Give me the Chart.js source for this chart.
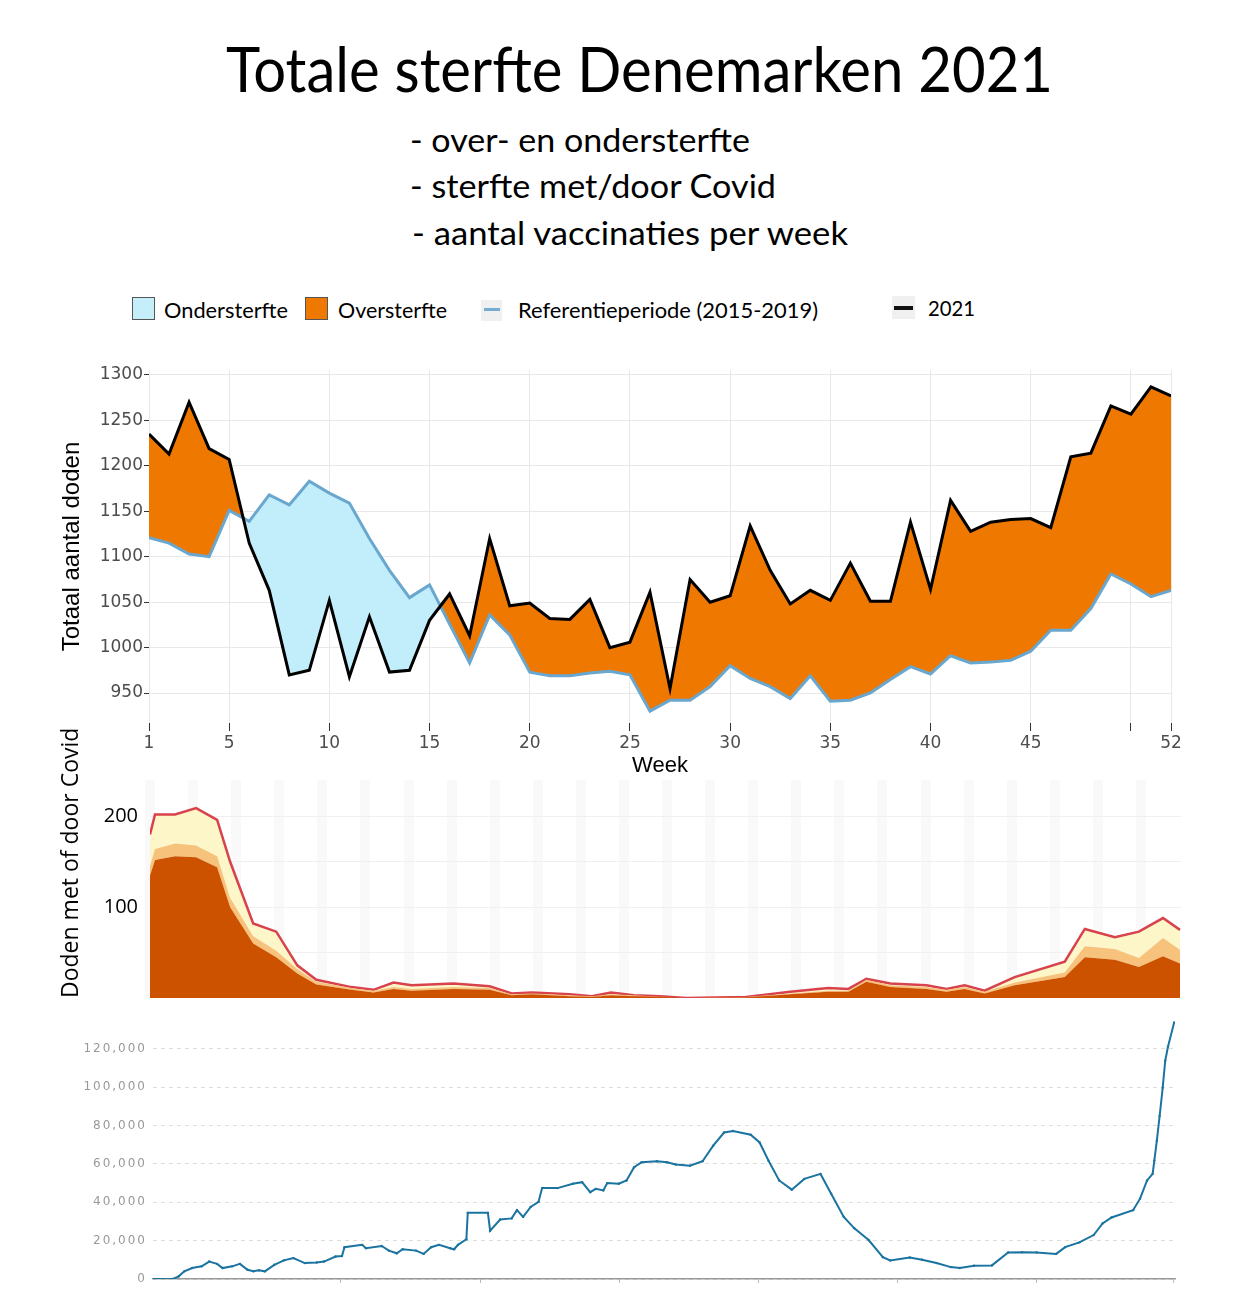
<!DOCTYPE html>
<html>
<head>
<meta charset="utf-8">
<script src="https://cdn.jsdelivr.net/npm/chart.js@4.4.1/dist/chart.umd.min.js"></script>
<style>
  html, body { margin: 0; padding: 0; background: #fff; }
  #page { position: relative; width: 1254px; height: 1300px; overflow: hidden; background: #fff; }
  .txt { position: absolute; white-space: nowrap; line-height: 1; font-family: Lato, "Open Sans", sans-serif; color: #000; transform-origin: 0 0; }
  .box { position: absolute; box-sizing: border-box; }
  canvas { position: absolute; left: 0; }
</style>
</head>
<body>
<div id="page">
  <div class="txt" style="left:226px; top:37px; font-size:62px;" data-w="827">Totale sterfte Denemarken 2021</div>
  <div class="txt" style="left:410px; top:124px; font-size:32px;" data-w="340">- over- en ondersterfte</div>
  <div class="txt" style="left:410px; top:170px; font-size:32px;" data-w="366">- sterfte met/door Covid</div>
  <div class="txt" style="left:412px; top:217px; font-size:32px;" data-w="436">- aantal vaccinaties per week</div>

  <!-- legend -->
  <div class="box" style="left:132px; top:297px; width:23px; height:23px; background:#c4eefa; border:1px solid #555;"></div>
  <div class="txt" style="left:164px; top:299px; font-size:21px;" data-w="124">Ondersterfte</div>
  <div class="box" style="left:305px; top:297px; width:23px; height:23px; background:#ef7800; border:1px solid #555;"></div>
  <div class="txt" style="left:338px; top:299px; font-size:21px;" data-w="109">Oversterfte</div>
  <div class="box" style="left:481px; top:300px; width:21px; height:21px; background:#f0f0f0;"></div>
  <div class="box" style="left:484px; top:308px; width:16px; height:3px; background:#74acd4;"></div>
  <div class="txt" style="left:518px; top:299px; font-size:21px;" data-w="300">Referentieperiode (2015-2019)</div>
  <div class="box" style="left:892px; top:296px; width:23px; height:23px; background:#f0f0f0;"></div>
  <div class="box" style="left:894px; top:306px; width:19px; height:4px; background:#111;"></div>
  <div class="txt" style="left:928px; top:297px; font-size:21px;" data-w="47">2021</div>

  <canvas id="sterfte" width="1254" height="430" style="top:355px"></canvas>
  <canvas id="covid" width="1254" height="295" style="top:710px"></canvas>
  <canvas id="vacc" width="1254" height="295" style="top:1005px"></canvas>
</div>

<script>
// ---- totale sterfte per week ----
const weeks = [1, 2, 3, 4, 5, 6, 7, 8, 9, 10, 11, 12, 13, 14, 15, 16, 17, 18, 19, 20, 21, 22, 23, 24, 25, 26,
  27, 28, 29, 30, 31, 32, 33, 34, 35, 36, 37, 38, 39, 40, 41, 42, 43, 44, 45, 46, 47, 48, 49, 50, 51, 52];
const deaths2021 = [1235, 1213, 1270, 1219, 1207, 1115, 1063, 970, 975, 1052, 968, 1034, 973, 975, 1030, 1059, 1013,
  1120, 1046, 1049, 1032, 1031, 1053, 1000, 1006, 1061, 955, 1075, 1050, 1057, 1134, 1085, 1048, 1063, 1052, 1093,
  1051, 1051, 1138, 1064, 1162, 1128, 1138, 1141, 1142, 1132, 1210, 1214, 1266, 1257, 1287, 1277];
const reference = [1121, 1115, 1103, 1100, 1151, 1139, 1168, 1157, 1183, 1170, 1159, 1120, 1085, 1055, 1069, 1026, 983,
  1036, 1014, 973, 969, 969, 972, 974, 970, 930, 942, 942, 957, 980, 966, 957, 944, 969, 941, 942, 950, 965, 979, 971,
  991, 983, 984, 986, 996, 1019, 1019, 1043, 1081, 1070, 1056, 1063];
const weekTicks = [1, 5, 10, 15, 20, 25, 30, 35, 40, 45, 50, 52];
const deathTicks = [950, 1000, 1050, 1100, 1150, 1200, 1250, 1300];

// ---- doden met of door covid (weeknummer als decimaal) ----
const covidWeeks = [1.05, 1.3, 2.3, 3.35, 4.4, 5.05, 6.2, 7.35, 8.4, 9.35, 11.1, 12.2, 13.2, 14.1, 16.2, 18.0, 19.1,
  20.1, 22.0, 23.1, 24.05, 25.2, 26.5, 27.8, 30.8, 33.0, 34.9, 35.9, 36.8, 38.0, 39.8, 40.8, 41.7, 42.7, 44.2, 46.7,
  47.7, 49.2, 50.4, 51.6, 52.45];
const covidDark = [135, 152, 156, 155, 144, 100, 60, 45, 27, 15, 9, 6, 10, 8, 10, 9, 3, 4, 2, 1, 3, 2, 1, 0, 0.5,
  4, 7, 7, 18, 12, 10, 7, 10, 5, 14, 23, 45, 42, 34, 46, 38];
const covidMid = [10, 12, 14, 13, 12, 10, 8, 7, 5, 3, 2, 2, 2, 2, 2, 2, 1, 1, 1, 1, 1, 1, 0.5, 0, 0.5,
  1, 1, 1, 2, 2, 2, 2, 2, 2, 3, 5, 12, 12, 10, 20, 15];
const covidOther = [35, 38, 32, 41, 40, 40, 14, 21, 4, 2, 1, 1, 5, 4, 4, 2, 1, 1, 1, 0, 2, 0, 0.5, 0, 0,
  2, 3, 2, 1, 2, 2, 1, 2, 1, 6, 12, 19, 13, 29, 22, 22];
const covidTicks = [50, 100, 150, 200];

// ---- vaccinaties (dag van het jaar) ----
const vaxDays = [0, 7.1, 9.2, 11.2, 14, 17.4, 20.1, 22.9, 24.9, 28.3, 31.1, 33.8, 35.9, 37.9, 40, 43.4, 46.8, 50.2,
  54.3, 58.5, 61.2, 65.3, 67.6, 68.5, 74.8, 76.2, 81.8, 84.4, 87.2, 89.3, 94.1, 96.8, 99.5, 102.3, 106.3, 107.7, 109.1,
  112.1, 112.6, 119.8, 120.6, 124.2, 128.3, 130.2, 132.4, 135.1, 137.9, 139.2, 144.7, 150.2, 153.5, 156.4, 158.4,
  161.1, 162.5, 166.6, 169.4, 172.1, 174.8, 180.3, 183.9, 187, 192.1, 196.6, 200.4, 204.3, 207.5, 213.8, 217, 220.2,
  224, 228.5, 233, 238.8, 242.6, 247.1, 250.9, 256, 261.1, 263.7, 270.7, 275.1, 280.3, 285.4, 288.6, 293.7, 300.1,
  305.9, 310.9, 316.1, 323.1, 326.3, 331.4, 336.5, 339.7, 342.9, 350.6, 353.1, 355.6, 357.6, 358.2, 359.1, 360.1,
  361.2, 362.1, 363.1, 365.3];
const vaxCount = [0, 0, 1400, 4000, 5700, 6600, 9100, 7900, 5700, 6600, 7900, 4800, 4000, 4500, 4000, 7400, 9700,
  10900, 8300, 8600, 9100, 11700, 12000, 16600, 17800, 16000, 17200, 14800, 13400, 15500, 14800, 13100, 16600, 17800,
  16000, 15500, 17800, 20700, 34500, 34500, 25200, 31000, 31600, 35900, 32400, 37600, 40200, 47400, 47400, 49700,
  50500, 45300, 47000, 46200, 50000, 49700, 51400, 58300, 60900, 61400, 60900, 59700, 59100, 61400, 69500, 76400,
  77200, 75200, 71200, 61700, 51400, 46600, 52200, 54800, 44500, 32400, 26400, 20300, 11400, 9700, 11200, 10000,
  8300, 6200, 5700, 6900, 7100, 13800, 14000, 13800, 13100, 16600, 19100, 22900, 29000, 32100, 35900, 41900, 51400,
  54800, 61700, 72100, 85000, 99700, 113800, 121200, 133800];
const vaxTicks = [0, 20000, 40000, 60000, 80000, 100000, 120000];
const vaxTickDays = [67, 117, 167, 216.5, 266.5, 316, 365];

Chart.defaults.font.family = '"DejaVu Sans", sans-serif';
Chart.defaults.animation = false;
Chart.defaults.responsive = false;
Chart.defaults.plugins.legend.display = false;
Chart.defaults.plugins.tooltip.enabled = false;

// bovenste grafiek
new Chart(document.getElementById('sterfte'), {
  type: 'line',
  data: {
    datasets: [{
      label: '2021',
      data: weeks.map((w, i) => ({ x: w, y: deaths2021[i] })),
      borderColor: '#000',
      borderWidth: 3,
      pointRadius: 0,
      fill: { target: 1, above: '#ef7800', below: '#c2edfa' }
    }, {
      label: 'Referentieperiode (2015-2019)',
      data: weeks.map((w, i) => ({ x: w, y: reference[i] })),
      borderColor: '#6aa7cf',
      borderWidth: 3,
      pointRadius: 0,
      fill: false
    }]
  },
  options: {
    layout: { padding: { top: 15, right: 83, left: 0, bottom: 0 } },
    plugins: { filler: { drawTime: 'beforeDatasetsDraw' } },
    scales: {
      x: {
        type: 'linear', min: 1, max: 52,
        afterBuildTicks: ax => { ax.ticks = weekTicks.map(v => ({ value: v })); },
        afterFit: s => { s.height = 62; },
        ticks: { autoSkip: false, maxRotation: 0, padding: 2, color: '#4d4d4d', font: { size: 17 },
          callback: v => (v === 50 ? '' : String(v)) },
        grid: { color: '#e8e8e8', tickColor: '#333', tickLength: 8 },
        border: { display: false },
        title: { display: true, text: 'Week', color: '#000', font: { family: '"Liberation Sans"', size: 22 },
          padding: { top: 0, bottom: 6 } }
      },
      y: {
        min: 917, max: 1305.5,
        afterBuildTicks: ax => { ax.ticks = deathTicks.map(v => ({ value: v })); },
        afterFit: s => { s.width = 149; },
        ticks: { padding: 1, color: '#4d4d4d', font: { size: 17 }, callback: v => String(v) },
        grid: { color: '#e8e8e8', tickColor: '#333', tickLength: 5 },
        border: { display: false },
        title: { display: true, text: 'Totaal aantal doden', color: '#000',
          font: { family: '"Liberation Sans"', size: 24 }, padding: { top: 58, bottom: 0 } }
      }
    }
  }
});

// middelste grafiek
const stripes = [];
for (let w = 1.05; w <= 52.5; w += 2.15) stripes.push({ value: w });

new Chart(document.getElementById('covid'), {
  type: 'line',
  data: {
    datasets: [{
      label: 'dark',
      data: covidWeeks.map((w, i) => ({ x: w, y: covidDark[i] })),
      backgroundColor: '#cc5200',
      borderWidth: 0,
      pointRadius: 0,
      fill: 'origin'
    }, {
      label: 'mid',
      data: covidWeeks.map((w, i) => ({ x: w, y: covidMid[i] })),
      backgroundColor: '#f6c27c',
      borderWidth: 0,
      pointRadius: 0,
      fill: '-1'
    }, {
      label: 'other',
      data: covidWeeks.map((w, i) => ({ x: w, y: covidOther[i] })),
      backgroundColor: '#fdf6c9',
      borderColor: '#d8424c',
      borderWidth: 2.5,
      pointRadius: 0,
      fill: '-1'
    }]
  },
  options: {
    layout: { padding: { top: 70, right: 73, left: 0, bottom: 0 } },
    scales: {
      x: {
        type: 'linear', min: 1.05, max: 52.5,
        afterBuildTicks: ax => { ax.ticks = stripes; },
        afterFit: s => { s.height = 7; s.paddingLeft = 0; s.paddingRight = 0; },
        ticks: { display: false },
        grid: { color: 'rgba(0,0,0,0.022)', lineWidth: 10, drawTicks: false },
        border: { display: false }
      },
      y: {
        min: 0, max: 240, stacked: true,
        afterBuildTicks: ax => { ax.ticks = covidTicks.map(v => ({ value: v })); },
        afterFit: s => { s.width = 150; s.paddingTop = 0; s.paddingBottom = 0; },
        ticks: { padding: 12, color: '#000', font: { family: '"Open Sans"', size: 20 },
          callback: v => (v % 100 === 0 ? String(v) : '') },
        grid: { color: '#f0f0f0', drawTicks: false },
        border: { display: false },
        title: { display: true, text: 'Doden met of door Covid', align: 'start', color: '#000',
          font: { family: '"Open Sans"', size: 23 }, padding: { top: 58, bottom: 0 } }
      }
    }
  }
});

// onderste grafiek
new Chart(document.getElementById('vacc'), {
  type: 'line',
  data: {
    datasets: [{
      label: 'vaccinaties',
      data: vaxDays.map((d, i) => ({ x: d, y: vaxCount[i] })),
      borderColor: '#1b73a0',
      backgroundColor: '#1b73a0',
      borderWidth: 2,
      pointRadius: 1.2,
      pointBorderWidth: 0,
      fill: false
    }]
  },
  options: {
    layout: { padding: { top: 11, right: 79, left: 0, bottom: 0 } },
    scales: {
      x: {
        type: 'linear', min: 0, max: 365.6,
        afterBuildTicks: ax => { ax.ticks = vaxTickDays.map(v => ({ value: v })); },
        afterFit: s => { s.height = 21; },
        ticks: { callback: () => '' },
        grid: { drawOnChartArea: false, tickColor: '#bbb', tickLength: 4 },
        border: { display: true, color: '#999', width: 1.5 }
      },
      y: {
        min: 0, max: 136000,
        afterBuildTicks: ax => { ax.ticks = vaxTicks.map(v => ({ value: v })); },
        afterFit: s => { s.width = 153; },
        ticks: { padding: 6, color: '#999', font: { size: 12 },
          callback: v => v.toLocaleString('en-US') },
        grid: { color: '#dedede', drawTicks: false },
        border: { display: false, dash: [4, 4] }
      }
    }
  },
  plugins: [{
    id: 'spacing',
    beforeDraw: chart => { chart.ctx.letterSpacing = '2px'; },
    afterDraw: chart => { chart.ctx.letterSpacing = '0px'; }
  }]
});

// tekst op de juiste breedte brengen
document.querySelectorAll('.txt[data-w]').forEach(el => {
  const w = el.getBoundingClientRect().width;
  el.style.transform = 'scaleX(' + (el.dataset.w / w) + ')';
});
</script>
</body>
</html>
